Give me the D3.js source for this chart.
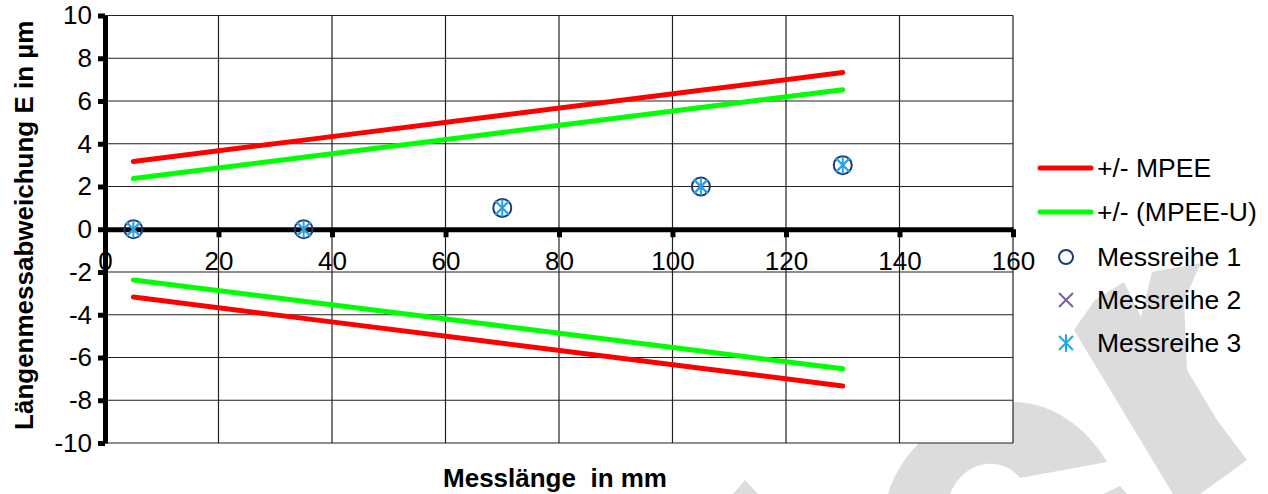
<!DOCTYPE html>
<html>
<head>
<meta charset="utf-8">
<title>Längenmessabweichung</title>
<style>
  body{ margin:0; background:#fff; }
  svg{ display:block; font-family:'Liberation Sans', Arial, sans-serif; }
  .axis text{ font-size:26px; fill:#000; font-family:'Liberation Sans', Arial, sans-serif; }
  .axis-title{ font-size:26px; font-weight:bold; fill:#000; white-space:pre; }
  .legend-text{ font-size:26.5px; fill:#000; white-space:pre; }
</style>
</head>
<body>
<script src="https://cdn.jsdelivr.net/npm/d3@7"></script>
<script>

// data
var messlaenge = [5, 35, 70, 105, 130];          // mm
var mpee       = [3.17, 4.17, 5.33, 6.5, 7.33];  // +/- MPEE
var mpeeU      = [2.37, 3.37, 4.53, 5.7, 6.53];  // +/- (MPEE-U)
var messreihe1 = [0, 0, 1, 2, 3];
var messreihe2 = [0, 0, 1, 2, 3];
var messreihe3 = [0, 0, 1, 2, 3];

var xTicks = [0, 20, 40, 60, 80, 100, 120, 140, 160];
var yTicks = [-10, -8, -6, -4, -2, 0, 2, 4, 6, 8, 10];
var legendLabels = ["+/- MPEE", "+/- (MPEE-U)", "Messreihe 1", "Messreihe 2", "Messreihe 3"];

var colors = {
  mpee: "#ff0000",
  mpeeU: "#00ff00",
  r1: "#1b3a78",
  r2: "#7b5ea0",
  r3: "#1ea7ec"
};

var width = 1268, height = 494;
var plot = {left:105, right:1013, top:15.5, bottom:443};

var svg = d3.select("body").append("svg")
    .attr("width", width)
    .attr("height", height);

// watermark in the background (decoration only)
var wm = svg.append("g").attr("fill", "#dcdcdc");
wm.append("path").attr("d", "M745,480 L758,494 L733,494 Z");
wm.append("path")
  .attr("d", "M888,494 C905,440 960,402 1013,402 C1050,402 1085,425 1107,462 L1020,478 C1003,456 965,458 950,494 Z");
wm.append("path").attr("d", "M1103,494 L1120,486 L1127,494 Z");
wm.append("path")
  .attr("d", "M1074,330 L1095,300 L1124,282 L1141,317 L1152,272 L1201,263 L1184,300 L1187,370 L1217,420 L1247,460 L1200,494 L1173,494 Z");

var x = d3.scaleLinear().domain([0, 160]).range([plot.left, plot.right]);
var y = d3.scaleLinear().domain([-10, 10]).range([plot.bottom, plot.top]);

// plot background
svg.append("rect")
    .attr("x", plot.left).attr("y", plot.top)
    .attr("width", plot.right - plot.left).attr("height", plot.bottom - plot.top)
    .attr("fill", "#fff");

// gridlines
var grid = svg.append("g").attr("stroke", "#222").attr("stroke-width", 1.2);
grid.selectAll(".hgrid")
    .data(yTicks)
    .enter().append("line")
    .attr("x1", plot.left).attr("x2", plot.right)
    .attr("y1", function(d){ return y(d); })
    .attr("y2", function(d){ return y(d); });
grid.selectAll(".vgrid")
    .data(xTicks.slice(1))
    .enter().append("line")
    .attr("x1", function(d){ return x(d); })
    .attr("x2", function(d){ return x(d); })
    .attr("y1", plot.top).attr("y2", plot.bottom);

// plain hyphen like the original, not the unicode minus
var fmt = function(d){ return String(d); };

// x axis sits on y = 0
var xAxis = svg.append("g")
    .attr("class", "axis")
    .attr("transform", "translate(0," + y(0) + ")")
    .call(d3.axisBottom(x).tickValues(xTicks).tickFormat(fmt)
      .tickSizeInner(8).tickSizeOuter(0).tickPadding(14));
xAxis.selectAll("text").attr("font-size", null).attr("font-family", null);
xAxis.select(".domain").attr("stroke-width", 5);
xAxis.selectAll(".tick line").attr("stroke-width", 5);

var yAxis = svg.append("g")
    .attr("class", "axis")
    .attr("transform", "translate(" + x(0) + ",0)")
    .call(d3.axisLeft(y).tickValues(yTicks).tickFormat(fmt)
      .tickSizeInner(7).tickSizeOuter(0).tickPadding(6));
yAxis.selectAll("text").attr("font-size", null).attr("font-family", null);
yAxis.select(".domain").attr("stroke-width", 5);
yAxis.selectAll(".tick line").attr("stroke-width", 5);

// zero line on top of the y axis
xAxis.raise();

// axis titles
svg.append("text")
    .attr("class", "axis-title")
    .attr("x", (plot.left + plot.right) / 2 - 4)
    .attr("y", 487)
    .attr("text-anchor", "middle")
    .text("Messlänge  in mm");

svg.append("text")
    .attr("class", "axis-title")
    .attr("transform", "translate(33," + ((plot.top + plot.bottom) / 2 - 4) + ") rotate(-90)")
    .attr("text-anchor", "middle")
    .text("Längenmessabweichung E in µm");

// tolerance lines, drawn as +/- pairs
var line = d3.line()
    .x(function(d){ return x(d[0]); })
    .y(function(d){ return y(d[1]); });

function pairs(vals, sign){
  return messlaenge.map(function(l, i){ return [l, sign * vals[i]]; });
}

var limits = [
  {vals: mpee, color: colors.mpee},
  {vals: mpeeU, color: colors.mpeeU}
];
limits.forEach(function(s){
  [1, -1].forEach(function(sign){
    svg.append("path")
      .datum(pairs(s.vals, sign))
      .attr("d", line)
      .attr("fill", "none")
      .attr("stroke", s.color)
      .attr("stroke-width", 5)
      .attr("stroke-linecap", "round");
  });
});

// marker helpers
function drawCircle(g, cx, cy, r){
  g.append("circle").attr("cx", cx).attr("cy", cy).attr("r", r)
    .attr("fill", "none").attr("stroke", colors.r1).attr("stroke-width", 2);
}
function drawX(g, cx, cy, s){
  g.append("path")
    .attr("d", "M" + (cx - s) + "," + (cy - s) + "L" + (cx + s) + "," + (cy + s) +
               "M" + (cx - s) + "," + (cy + s) + "L" + (cx + s) + "," + (cy - s))
    .attr("stroke", colors.r2).attr("stroke-width", 2).attr("fill", "none");
}
function drawStar(g, cx, cy, s){
  g.append("path")
    .attr("d", "M" + (cx - s) + "," + (cy - s) + "L" + (cx + s) + "," + (cy + s) +
               "M" + (cx - s) + "," + (cy + s) + "L" + (cx + s) + "," + (cy - s) +
               "M" + cx + "," + (cy - s * 1.25) + "L" + cx + "," + (cy + s * 1.25))
    .attr("stroke", colors.r3).attr("stroke-width", 2).attr("fill", "none");
}

var markers = svg.append("g");
messlaenge.forEach(function(l, i){ drawCircle(markers, x(l), y(messreihe1[i]), 9); });
messlaenge.forEach(function(l, i){ drawX(markers, x(l), y(messreihe2[i]), 7); });
messlaenge.forEach(function(l, i){ drawStar(markers, x(l), y(messreihe3[i]), 7); });

// legend
var legend = svg.append("g");
var legX = 1097, rowY = [168, 212, 257, 300, 343];

legendLabels.forEach(function(label, i){
  legend.append("text")
    .attr("class", "legend-text")
    .attr("x", legX)
    .attr("y", rowY[i] + 9)
    .text(label);
});
[colors.mpee, colors.mpeeU].forEach(function(c, i){
  legend.append("line")
    .attr("x1", 1040).attr("x2", 1091)
    .attr("y1", rowY[i]).attr("y2", rowY[i])
    .attr("stroke", c).attr("stroke-width", 5).attr("stroke-linecap", "round");
});
drawCircle(legend, 1066, rowY[2], 7);
drawX(legend, 1066, rowY[3], 7);
drawStar(legend, 1066, rowY[4], 7);

</script>
</body>
</html>
